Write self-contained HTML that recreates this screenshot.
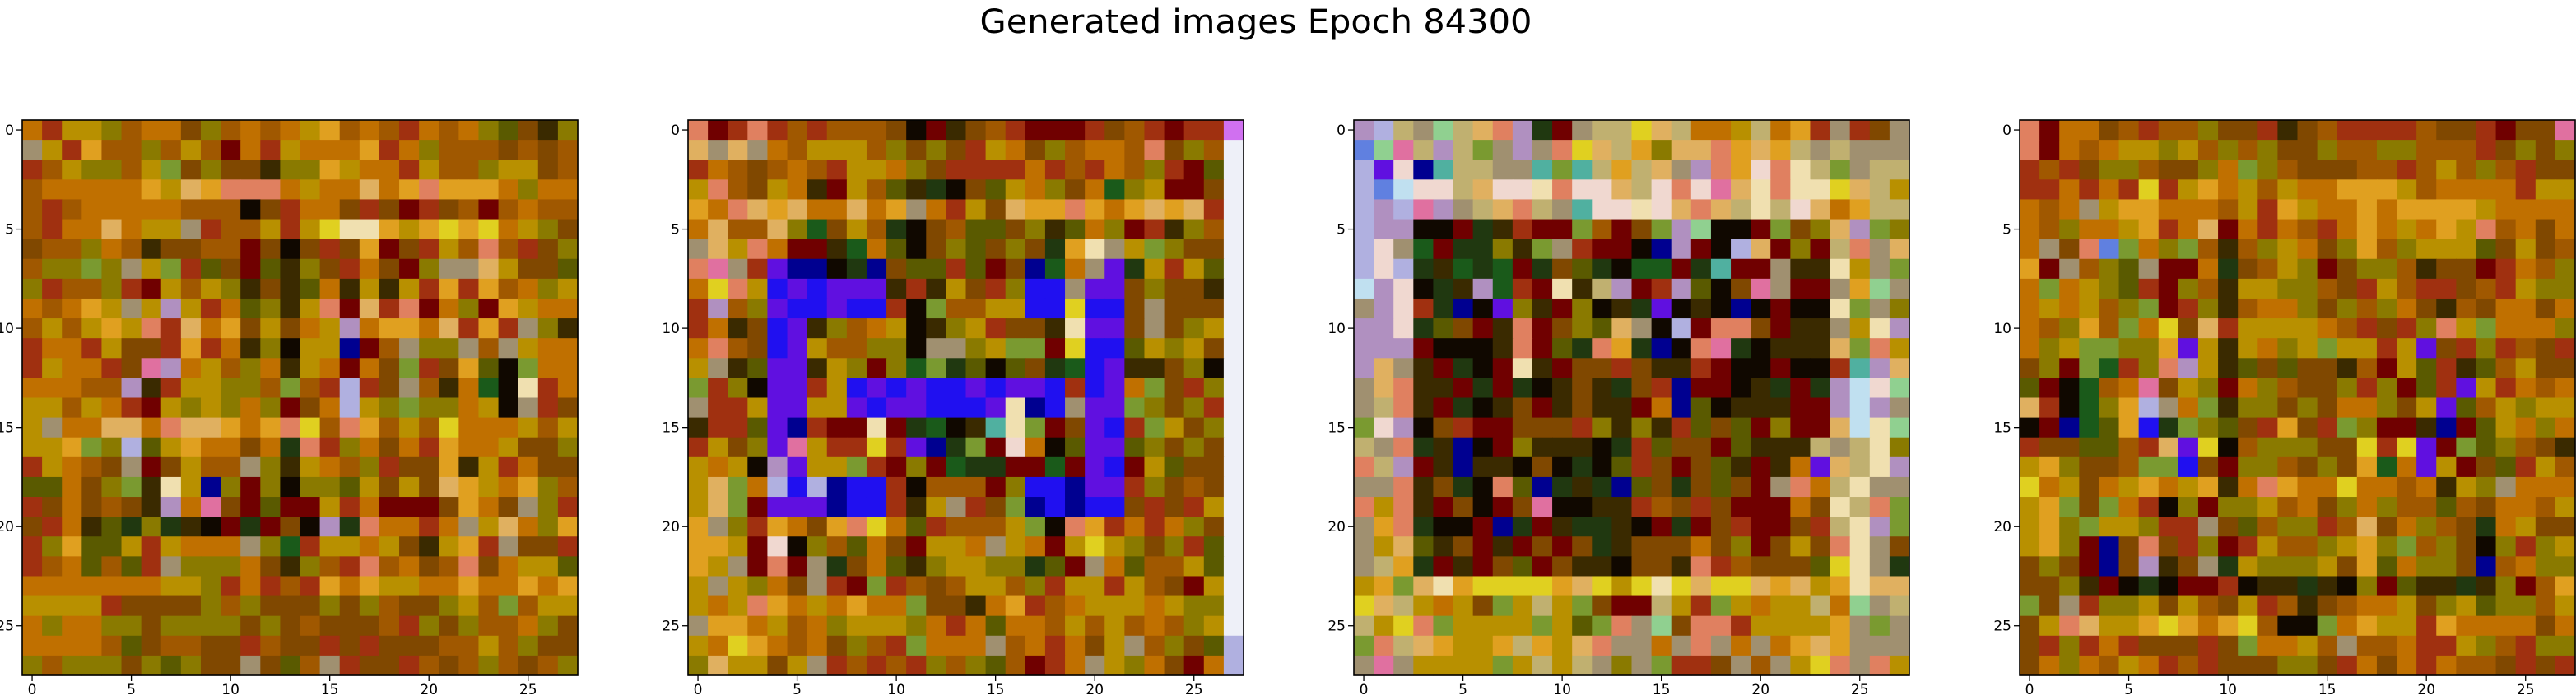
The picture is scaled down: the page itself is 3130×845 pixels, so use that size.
<!DOCTYPE html>
<html><head><meta charset="utf-8"><title>Generated images Epoch 84300</title>
<style>
html,body{margin:0;padding:0;background:#fff;}
svg{display:block;}
text{font-family:"DejaVu Sans","Liberation Sans",sans-serif;fill:#000;}
</style></head>
<body>
<svg id="fig" width="3130" height="845" viewBox="0 0 3130 845" xmlns="http://www.w3.org/2000/svg">
<text x="1526" y="40" font-size="40" text-anchor="middle" textLength="671" lengthAdjust="spacingAndGlyphs">Generated images Epoch 84300</text>
</svg>
<script>
// palette: pixel class -> colour
const paletteKeys = "OoYyBRrKkLlWPbvnGgCMSTsADEFQVHUuN";
const paletteColors = ["#c07000","#a05800","#b89000","#8a7a00","#804800","#a03010","#700000","#100800","#3a2a00","#e0b060","#f0e0b0","#eef0f8","#e070a0","#2010f0","#6010e0","#000090","#1a5a1a","#203810","#50b0a0","#b090c0","#b0b0e0","#a09070","#e08060","#e0a020","#5a5a00","#e0d020","#f0d8d0","#7a9a30","#d070f0","#90d090","#6080e0","#c0e0f0","#c0b070"];
const tickValues = [0,5,10,15,20,25];
const panelLefts = [27,836,1645,2454];
const image1 = ["ORYYyoOOByoOoOYAoOoROoOyDBky","TYRAooyoYorORYOOOAROyoooBoBo","RoYyyoYQByBBkyyAYOORYooyYYBo","oOOOOOAYLAsssOYOOLOAsAAAOyOO","oRoOOOOOoooKBROOBRBrRBoroOoo","oROOLOYYTRooYRYEllAYAEAEOYyB","BooyOokBBoorBKBRBArBRYosoRBy","oyyQyTYQRDBrDkyBROBryTTLYBBD","yRooyRrYoYykBkDOkYkYRARAoOyY","OoOAYTYMYRODykYsrLRsrOyrAYOO","oYoYAYsRLOABYBOYMOAAOLRARTyk","ROORYBBRAROkyKYYnroTyyToTYOO","RYOORBPMOYoyOkYOrOBQRBADKQOO","OOOooMkRYYyyoQoRSRBTokOGKlRO","YYoYORrYyYyOyrBOSYyQyyOYKTRB","YTOOLLOsLLAOAsEosAoYoEOOOYoY","YYAQySDYAOOBOgsRyOBORAOOYBBy","RYOoBTrBYooTykYOoyRBBAkYROBB","DDOByQklYnyryKyyDYBYBLAYOAyo","RBOBoBkMOPBrDrrYROrrrBAOBTyR","BROkDgygkKrgrBKMgsOOROTYLOyA","RyADDYRYOOOTyGRYYOYBkYARTBBR","RoODoDRTyyyOBkyoRsoOBosBOYYD","OOOOOOOYYyRORoRAOAYYOOAOOAOA","YYYYRBBBByoyBBByByoBByYoQoYY","OyOOyyByyyyByBoBBBoRyByooOyB","OOOOoDBooBBRoBBRBRBBBooYoyBB","yoyyyByDyBBTBDoTRBBRoBoyoBoy"];
const image2 = ["srRsRoRoooBKrkBoRrrrRBoRrRRV","LTLTOoYYYoyByBRYOByoOOosByoW","ROoBoOoRYYOyBRRRRORoROoyRrDW","YsoBYOkrYoDkgKBDYOyBOGyYrrBW","AOsLALOOLOATORYBLAAsAOALALRW","OLooLyGBYogKBoDDBykDOyrRkyoW","TLYsOrrkGODKByDByBgAlTYQyBBW","sPTRvnnKgnBDDRDrBnGOTvgYRYDW","OEsYbvbvvvkRkYBRybbTvvByBBkW","RMoyvbbvbbRKQooYYbbEbbBTBBBW","ROkBbvkyoOYKkyYRBBklvvBTByYW","OsoBbvYooyyKTTyYQQrEbbDYyYBW","YTkDvvkYyryGQgDKDBgGbvkkByKW","QRyKvvRYbvbvbbvbvvbRbvOQBRyW","TRRYvvYYvbvvbbbvlnbTvvQyByRW","kRRDvnRrrlrgGKkClQrBvbRQYByW","RYByvPYRRERvngQrFOKDvvDyByBW","YOYKMvYYQRryrGggrrGrvbrYDBBW","YLQOSbSnbbRKooorybbnvvRyBoBW","YLQrvvvnbbRkYTRBQnbnbbBRBRYW","ATyRAOBAsEODRoooYQKsAROROyBW","AAYrFKyoDOBrYYOTYOrYEYyByRDW","AYTrsrTgBODkyYYyygDrTODooYDW","YTYyOBTRrQRoBoYYoyRYYRYoBrYW","YOYsAOYOAOOQBBkOARoOYYYOYyyW","TAAOYoOyYYYyORODOOoYoYoOoyYW","YOEAOoOByoRQOOOToOROBYToyBDS","yLYYBYTRoRoRyoyDorROTYyOBrOS"];
const image3 = ["MSNTHNLsMgrTNNELNOOYNOARTRBT","UHPNMNQTMTsELNAyLLsALANTNTTT","SvFnCNNTTCQCNANLTMsAFslNQTNN","SUuFFNLFFlsFFLNFsFPLlsllELNY","SMSPMTNLsNTCFFlFLsLNlNFLOANN","SMMKKrgkRrrQorBQMHKKrQByLMQy","SFTGrggykQTRrrKnMrKSLryrNsTL","SFSgkGgGrgBDgKGGrgCrrTkklYTQ","uMFKgkMGRrlkNMrRMDKBPTrrTAHT","TMFRgnKvykryKkgvKkKnKrKKlQTy","MMFgDBrksrByDLTKSrssBrkkTYlM","MMMrKKKksrDgsAgnKsPgKkkkLQsY","MLTkrgKrlkrBBRBkkRrKKrKKRCML","TLskkrgrgKkBkgBRnrrKkgrgMuFH","TNskrgKkBrkBkkrOnDKkkkrrMuMT","QFMKBRrrBBBRykykRDBDryrrLulH","NTsgknKrykkkKgRDBBrDkkkNTNly","sNMrknkkKBKgKDRBrBDkrkOvLNlM","TTskBgKsDngkgnDBgBDBrTsONlTT","sYskrBKrBPKKkkRoBRBrrrOBlNsQ","TAsgKKrngrkggkKrgrBRrrBRNlMQ","TYLDkBrkrBrBgkBBBOByrBYBslTB","TNAgrkrBDrBkkKBBksRoBBBDElTg","YAQLlAEEEEALEYElELEELALYAlLL","ELNYOYBQYNYQBrrNYRQYOYYNOHTN","NYEsQYYYYQYDQsTHBssRYYYYATQT","QsNLAYYANAYLsTTOTsTOTOALATTT","TPTYYYYQYNYNTyTQRRBToTYEsTsY"];
const image4 = ["srOOBoRooyBBRkBoRRRRoBBRrBBP","srOoOYYyYoyoyBByooyyoooRByBy","RoRByyoBByOQyoBBBooRoYoyoRBB","RRORORERYAOYoYOOAAAYoOOOORYYO","OoOTYAAOOOoYRAYOOAOAAAAYOOOO","OoyOOYAROLrOROoROAOYOAYsoOBO","OTBsUQOyQokoyYOByAoyYYYDBYBo","ArToyDTrrOgBoYyrByyokBBrROoy","OQOYyDRryokYYyyoBRYoRRBoRYyy","OYOYoyQrRykoOOyByoyOBkoBOOBO","OoyAoQOEBLRYYYYOoRBRysYQOOOy","OyYQQyyAvYkYOyYQYYRYvBRyRoBR","ByrQGRysMYkDBDBBkorYDRkDoYBB","DrKGoOPBYyrOyoBByRyrDRvYROoO","LRKGyASTOQkyyByBOOyBYvDoYyYY","KrnGDAbgQyDBRABRQyrrknrDYOyO","RBBDDoRLvEKoyyyBBEREvrQDyoBk","YAyBBoQQbBryyoByBAGOvYrBDRYo","EOYBOYAOYAkOsAOOEOOoOkYyTOOO","YAQBQORKyryyYoOByOyooDoBOOoY","YAyQYYyRRTBDoyyRoLBOyoBgOYBB","YAyrnBsBRyrRYooyYAyQoyBKyRyY","ByBrnBMkBTgYyyyYBADOyyBnoOyy","BBykrKgKrrRKkkgkKyrDkkgkyroA","QBTRyyYBYoBYRokBoOOYByYDyyoY","BYsLYYAEAOAEoKKQOAYYRAOOOOBO","BRyRORBBBRBQOOYoTooORRYyoRyy","BOyOoYORoRBBByyBROBOROooBRBR"];
const images = [image1,image2,image3,image4];

const NS = "http://www.w3.org/2000/svg";
const svg = document.getElementById("fig");
const TOP = 146, SIZE = 675, N = 28, CELL = SIZE / N;
function colorOf(ch){ const i = paletteKeys.indexOf(ch); return i < 0 ? "#906000" : paletteColors[i]; }
function xScale(left, col){ return left + col * CELL; }
function yScale(row){ return TOP + row * CELL; }
function mk(tag, attrs){ const e = document.createElementNS(NS, tag); for (const k in attrs) e.setAttribute(k, attrs[k]); return e; }

images.forEach((img, p) => {
  const left = panelLefts[p];
  const g = mk("g", {});
  
  
  svg.appendChild(g);
  for (let r = 0; r < N; r++) {
    let row = img[r] || "";
    while (row.length < N) row += row.charAt(row.length - 1) || "O";
    for (let c = 0; c < N; c++) {
      const x0 = xScale(left, c), y0 = yScale(r);
      const rect = mk("rect", {x: x0.toFixed(2), y: y0.toFixed(2), width: (CELL + 0.6).toFixed(2), height: (CELL + 0.6).toFixed(2), fill: colorOf(row[c])});
      
      
      g.appendChild(rect);
    }
  }
  const frame = mk("rect", {x: left, y: TOP, width: SIZE, height: SIZE, fill: "none", stroke: "#000", "stroke-width": 1.6});
  
  
  g.appendChild(frame);
  tickValues.forEach(v => {
    const cx = xScale(left, v) + CELL / 2;
    const xt = mk("line", {x1: cx, x2: cx, y1: TOP + SIZE, y2: TOP + SIZE + 7, stroke: "#000", "stroke-width": 1.3});
    
    
    g.appendChild(xt);
    const xl = mk("text", {x: cx, y: TOP + SIZE + 23, "font-size": 17, "text-anchor": "middle"});
    
    
    xl.textContent = v;
    g.appendChild(xl);
    const cy = yScale(v) + CELL / 2;
    const yt = mk("line", {x1: left - 7, x2: left, y1: cy, y2: cy, stroke: "#000", "stroke-width": 1.3});
    
    
    g.appendChild(yt);
    const yl = mk("text", {x: left - 10, y: cy + 6, "font-size": 17, "text-anchor": "end"});
    
    
    yl.textContent = v;
    g.appendChild(yl);
  });
});
</script>
</body></html>
